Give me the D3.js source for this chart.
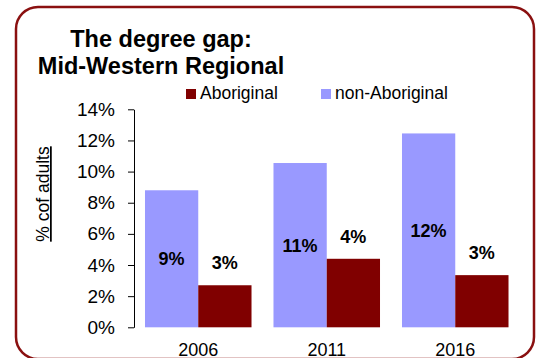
<!DOCTYPE html>
<html>
<head>
<meta charset="utf-8">
<script src="https://cdn.jsdelivr.net/npm/d3@7"></script>
<style>
  html, body { margin: 0; padding: 0; background: #fff; }
  svg { display: block; font-family: "Liberation Sans", Arial, sans-serif; }
</style>
</head>
<body>
<svg id="chart" width="542" height="358"></svg>
<script>
// Census years and the share of adults holding a degree
const years = ["2006", "2011", "2016"];
const seriesNames = ["non-Aboriginal", "Aboriginal"];
const nonAboriginal = [0.088, 0.1055, 0.1245];
const aboriginal = [0.027, 0.044, 0.0335];
const yTicks = [0, 0.02, 0.04, 0.06, 0.08, 0.10, 0.12, 0.14];
const titleLines = ["The degree gap:", "Mid-Western Regional"];
const legendOrder = ["Aboriginal", "non-Aboriginal"];

const colors = { "non-Aboriginal": "#9999ff", "Aboriginal": "#800000" };

const rows = years.map((y, i) => ({
  year: y,
  "non-Aboriginal": nonAboriginal[i],
  "Aboriginal": aboriginal[i]
}));

const svg = d3.select("#chart");

// Rounded frame
svg.append("rect")
  .attr("x", 16).attr("y", 7)
  .attr("width", 518).attr("height", 352)
  .attr("rx", 22).attr("ry", 22)
  .attr("fill", "none")
  .attr("stroke", "#8a1010")
  .attr("stroke-width", 2.5);

// Title
svg.append("text")
  .attr("text-anchor", "middle")
  .attr("font-weight", "bold")
  .attr("font-size", 23.5)
  .attr("fill", "#000")
  .selectAll("tspan")
  .data(titleLines)
  .join("tspan")
  .attr("x", 161)
  .attr("y", (d, i) => 46.5 + i * 27.5)
  .text(d => d);

// Scales
const x0 = d3.scaleBand().domain(years).range([134, 519.5])
  .paddingInner(0.171).paddingOuter(0.0855);
const x1 = d3.scaleBand().domain(seriesNames).range([0, x0.bandwidth()]).padding(0);
const y = d3.scaleLinear().domain([0, 0.14]).range([327.3, 109.3]);

// Y axis
const yAxis = svg.append("g")
  .attr("transform", "translate(134,0)")
  .call(d3.axisLeft(y).tickValues(yTicks).tickFormat(d3.format(".0%"))
    .tickSizeInner(6).tickSizeOuter(0).tickPadding(13));
yAxis.select(".domain").attr("stroke", "#000");
yAxis.selectAll(".tick line").attr("stroke", "#000");
yAxis.selectAll(".tick text")
  .attr("font-family", "'Liberation Sans', Arial, sans-serif")
  .attr("font-size", 19)
  .attr("fill", "#000");

// Y axis title (underlined)
svg.append("text")
  .attr("transform", "translate(49,194) rotate(-90)")
  .attr("text-anchor", "middle")
  .attr("font-size", 17.5)
  .attr("text-decoration", "underline")
  .attr("fill", "#000")
  .text("% cof adults");

// Bars
const groups = svg.append("g").selectAll("g")
  .data(rows)
  .join("g")
  .attr("transform", d => `translate(${x0(d.year)},0)`);

groups.selectAll("rect")
  .data(d => seriesNames.map(k => ({ key: k, value: d[k] })))
  .join("rect")
  .attr("x", d => x1(d.key))
  .attr("y", d => y(d.value))
  .attr("width", x1.bandwidth())
  .attr("height", d => y(0) - y(d.value))
  .attr("fill", d => colors[d.key]);

// Value labels: centred inside the non-Aboriginal bars, above the Aboriginal bars
const fmt = d3.format(".0%");
groups.selectAll("text.val")
  .data(d => seriesNames.map(k => ({ key: k, value: d[k] })))
  .join("text")
  .attr("class", "val")
  .attr("x", d => x1(d.key) + x1.bandwidth() / 2)
  .attr("y", d => d.key === "non-Aboriginal"
    ? (y(d.value) + y(0)) / 2 + 6.5
    : y(d.value) - 16)
  .attr("text-anchor", "middle")
  .attr("font-weight", "bold")
  .attr("font-size", 18)
  .attr("fill", "#000")
  .text(d => fmt(d.value));

// Year labels
svg.append("g").selectAll("text")
  .data(years)
  .join("text")
  .attr("x", d => x0(d) + x0.bandwidth() / 2)
  .attr("y", 355.5)
  .attr("text-anchor", "middle")
  .attr("font-size", 18)
  .attr("fill", "#000")
  .text(d => d);

// Legend
const legendX = { "Aboriginal": 186, "non-Aboriginal": 321 };
const lg = svg.append("g").selectAll("g")
  .data(legendOrder)
  .join("g")
  .attr("transform", d => `translate(${legendX[d]},89)`);
lg.append("rect")
  .attr("width", 10).attr("height", 10)
  .attr("fill", d => colors[d]);
lg.append("text")
  .attr("x", 14).attr("y", 10.3)
  .attr("font-size", 17.5)
  .attr("fill", "#000")
  .text(d => d);
</script>
</body>
</html>
